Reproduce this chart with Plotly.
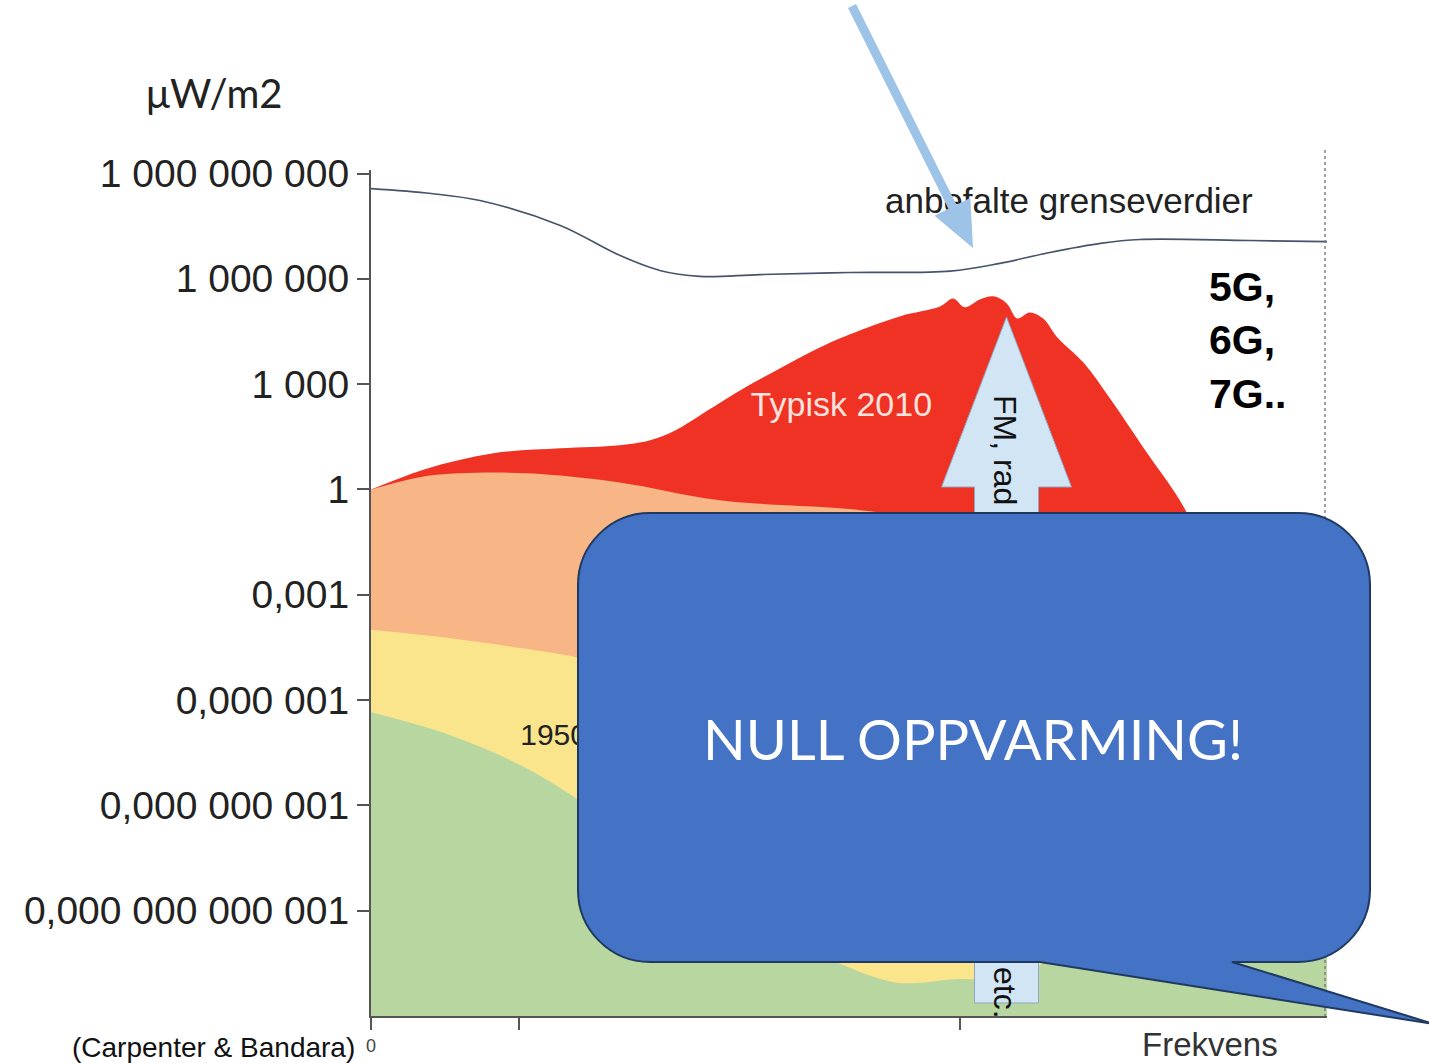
import math
import plotly.graph_objects as go

# Frequency axis runs 0..100 (arbitrary units); power density in μW/m2 on a log axis.
# Curve values are stored as log10 exponents.

limit_x = [0, 6.3, 11.4, 19.8, 26.0, 30.2, 34.4, 40.7, 50.1, 60.6, 65.8, 71.0, 76.3, 80.4, 91.9, 100]
limit_exp = [8.57, 8.43, 8.23, 7.52, 6.67, 6.24, 6.07, 6.12, 6.18, 6.22, 6.44, 6.75, 7.01, 7.12, 7.09, 7.06]

red_x = [0, 3.0, 5.9, 12.8, 19.8, 26.0, 29.2, 31.8, 34.4, 38.6, 42.8, 47.0, 50.1, 55.3, 59.5,
         60.9, 62.1, 63.7, 65.1, 66.5, 67.6, 68.9, 70.3, 71.8, 74.5, 77.3, 81.0, 84.6, 86.7,
         88.3, 89.9, 91.4]
red_exp = [0, 0.32, 0.60, 1.03, 1.17, 1.26, 1.40, 1.68, 2.11, 2.82, 3.45, 4.05, 4.42, 4.93, 5.21,
           5.44, 5.19, 5.41, 5.50, 5.30, 4.87, 5.04, 4.87, 4.33, 3.62, 2.59, 1.11, -0.31, -1.45,
           -3.16, -7.4, -15.1]

orange_x = [0, 5.1, 9.3, 16.3, 26.0, 36.5, 51.2, 60, 68, 75, 80, 85, 90]
orange_exp = [0, 0.35, 0.46, 0.46, 0.20, -0.31, -0.59, -1.0, -2.0, -4.0, -6.5, -10.0, -16.0]

yellow_x = [0, 8.3, 15.6, 21.7, 30, 40, 50, 60, 70, 85, 100]
yellow_exp = [-4.0, -4.24, -4.52, -4.8, -5.5, -6.8, -8.5, -9.5, -10.0, -10.0, -10.0]

green_x = [0, 8.3, 15.6, 21.7, 26, 35, 45, 48.5, 55, 61, 67, 70, 73, 85, 100]
green_exp = [-6.35, -7.0, -7.85, -8.85, -9.8, -11.5, -13.0, -13.45, -14.05, -13.95, -13.9, -13.55, -12.8, -11.2, -10.8]

y_tickvals = [1e9, 1e6, 1e3, 1, 1e-3, 1e-6, 1e-9, 1e-12]
y_ticktext = ["1 000 000 000", "1 000 000", "1 000", "1", "0,001", "0,000 001",
              "0,000 000 001", "0,000 000 000 001"]
x_tickvals = [0, 15.5, 61.6]
x_ticktext = ["0", "", ""]

W, H = 1429, 1063
ML, MR, MT, MB = 371, 102, 170, 47
PW, PH = W - ML - MR, H - MT - MB


def px(x):
    return (x - ML) / PW


def py(y):
    return (H - MB - y) / PH


def to_vals(exps):
    return [10 ** e for e in exps]


def poly_path(points):
    return "M " + " L ".join(f"{px(a):.5f},{py(b):.5f}" for a, b in points) + " Z"


def arrow_points(x0, y0, x1, y1, shaft_w, head_len, head_w):
    dx, dy = x1 - x0, y1 - y0
    d = math.hypot(dx, dy)
    ux, uy = dx / d, dy / d
    nx, ny = -uy, ux
    bx, by = x1 - ux * head_len, y1 - uy * head_len
    s, h = shaft_w / 2, head_w / 2
    return [(x0 + nx * s, y0 + ny * s), (bx + nx * s, by + ny * s), (bx + nx * h, by + ny * h),
            (x1, y1), (bx - nx * h, by - ny * h), (bx - nx * s, by - ny * s), (x0 - nx * s, y0 - ny * s)]


def callout_path(L, T, R, B, r, tail_right, tail_left, tip):
    k = 0.5523 * r

    def p(a, b):
        return f"{px(a):.5f},{py(b):.5f}"
    return (f"M {p(L + r, T)} L {p(R - r, T)} "
            f"C {p(R - r + k, T)} {p(R, T + r - k)} {p(R, T + r)} "
            f"L {p(R, B - r)} C {p(R, B - r + k)} {p(R - r + k, B)} {p(R - r, B)} "
            f"L {p(tail_right, B)} L {p(*tip)} L {p(tail_left, B)} "
            f"L {p(L + r, B)} C {p(L + r - k, B)} {p(L, B - r + k)} {p(L, B - r)} "
            f"L {p(L, T + r)} C {p(L, T + r - k)} {p(L + r - k, T)} {p(L + r, T)} Z")


fig = go.Figure()

areas = [
    (red_x, red_exp, "#EF3224"),
    (orange_x, orange_exp, "#F8B585"),
    (yellow_x, yellow_exp, "#FBE58C"),
    (green_x, green_exp, "#B8D6A0"),
]
for xs, es, col in areas:
    fig.add_trace(go.Scatter(x=xs, y=to_vals(es), mode="lines", fill="tozeroy",
                             fillcolor=col, line=dict(width=0, shape="spline", color=col),
                             hoverinfo="skip", showlegend=False))

fig.add_trace(go.Scatter(x=limit_x, y=to_vals(limit_exp), mode="lines",
                         line=dict(color="#44546A", width=1.6, shape="spline"),
                         hoverinfo="skip", showlegend=False))

# Series labels
labels = [
    (73.0, 8.12, "anbefalte grenseverdier", 35, "#222222"),
    (49.2, 2.34, "Typisk 2010", 34, "#FBE3DE"),
    (19.1, -7.06, "1950", 30, "#222222"),
]
for lx, le, txt, size, col in labels:
    fig.add_trace(go.Scatter(x=[lx], y=[10 ** le], mode="text", text=[txt],
                             textposition="middle center", cliponaxis=False,
                             textfont=dict(family="Liberation Sans, Arial", size=size, color=col),
                             hoverinfo="skip", showlegend=False))

shapes = [
    dict(type="line", xref="paper", yref="paper", x0=px(1325), x1=px(1325), y0=py(150), y1=py(1016),
         line=dict(color="#808080", width=1.5, dash="dot"), layer="above"),
    dict(type="path", xref="paper", yref="paper",
         path=poly_path(arrow_points(852, 6, 973, 248, 9, 46, 40)),
         fillcolor="#9DC3E6", line=dict(width=0), layer="above"),
    dict(type="path", xref="paper", yref="paper",
         path=poly_path(arrow_points(1006.5, 1003, 1006.5, 317, 64, 170, 130)),
         fillcolor="#D2E5F5", line=dict(color="#8FA8C0", width=1), layer="above"),
    dict(type="path", xref="paper", yref="paper",
         path=callout_path(578, 513, 1370, 962, 72, 1232, 1040, (1434, 1024)),
         fillcolor="#4472C4", line=dict(color="#1F3A60", width=2), layer="above"),
]

annotations = [
    dict(text="μW/m2", x=px(214), y=py(93), font=dict(family="Lato", size=40, color="#222222")),
    dict(text="(Carpenter & Bandara)", x=px(213), y=py(1047),
         font=dict(family="Liberation Sans, Arial", size=28, color="#111111")),
    dict(text="Frekvens", x=px(1210), y=py(1044),
         font=dict(family="Liberation Sans, Arial", size=33, color="#333333")),
    dict(text="<b>5G,<br>6G,<br>7G..</b>", x=px(1207), y=py(262), xanchor="left", yanchor="top",
         align="left", font=dict(family="Liberation Sans, Arial", size=41, color="#000000")),
    dict(text="NULL OPPVARMING!", x=px(973), y=py(738),
         font=dict(family="Lato", size=56, color="#FFFFFF")),
    dict(text="FM, rad", x=px(1005), y=py(450), textangle=90,
         font=dict(family="Liberation Sans, Arial", size=32, color="#111111")),
    dict(text="etc.", x=px(1005), y=py(993), textangle=90,
         font=dict(family="Liberation Sans, Arial", size=32, color="#111111")),
]
for a in annotations:
    a.setdefault("xanchor", "center")
    a.setdefault("yanchor", "middle")
    a.update(xref="paper", yref="paper", showarrow=False)

fig.update_layout(
    template="none",
    width=W, height=H,
    margin=dict(l=ML, r=MR, t=MT, b=MB, pad=0),
    paper_bgcolor="white", plot_bgcolor="white",
    showlegend=False,
    shapes=shapes,
    annotations=annotations,
    xaxis=dict(range=[0, 100], showgrid=False, zeroline=False, showline=True,
               linecolor="#555555", linewidth=2, ticks="outside", ticklen=12, tickwidth=1.5,
               tickcolor="#555555", tickvals=x_tickvals, ticktext=x_ticktext,
               tickfont=dict(family="Liberation Sans, Arial", size=18, color="#444444"),
               automargin=False, fixedrange=True),
    yaxis=dict(type="log", range=[-15, 9.1], showgrid=False, zeroline=False, showline=True,
               linecolor="#555555", linewidth=2, ticks="outside", ticklen=12, tickwidth=1.5,
               tickcolor="#555555", tickvals=y_tickvals, ticktext=y_ticktext,
               tickfont=dict(family="Liberation Sans, Arial", size=39, color="#222222"),
               automargin=False, fixedrange=True),
)

fig.write_html("out.html")
